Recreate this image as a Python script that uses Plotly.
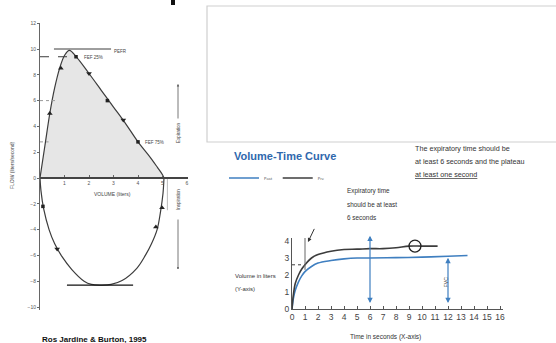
import plotly.graph_objects as go

W, H = 556, 343
def px(x): return x / W
def py(y): return 1 - y / H

# ---------- Flow-volume loop data ----------
exp_vol  = [0, 0.2, 0.4, 0.6, 0.8, 1.0, 1.2, 1.5, 2.0, 2.5, 3.0, 3.5, 4.0, 4.5, 4.8, 5.0, 5.06]
exp_flow = [0, 2.5, 5.0, 7.0, 8.5, 9.5, 9.9, 9.35, 8.1, 6.8, 5.5, 4.2, 2.8, 1.6, 0.8, 0.25, 0]
insp_vol  = [5.06, 5.02, 4.92, 4.78, 4.55, 4.3, 3.95, 3.35, 2.9, 2.5, 2.1, 1.8, 1.3, 0.9, 0.6, 0.37, 0.15, 0.04, 0]
insp_flow = [0, -1.2, -2.6, -4, -5.1, -6, -7, -7.95, -8.25, -8.3, -8.25, -8.0, -7.1, -6.1, -5.1, -4, -2.4, -1.0, 0]
tri_up_vol, tri_up_flow = [0.4, 0.85], [5.0, 8.5]
tri_dn_vol, tri_dn_flow = [2.0, 3.4, 0.7], [8.1, 4.5, -5.5]
sq_vol, sq_flow = [1.47, 2.75, 4.0, 0.12], [9.4, 6.0, 2.8, -2.2]
tri_insp_vol, tri_insp_flow = [4.73, 4.98], [-3.8, -2.3]
pefr, fef25, fef75, pif = 10.0, 9.4, 2.8, -8.3
flow_ticks = [12, 10, 8, 6, 4, 2, 0, -2, -4, -6, -8, -10]
vol_ticks = [1, 2, 3, 4, 5, 6]

# ---------- Volume-time data ----------
pre_t = [0, 0.1, 0.25, 0.5, 0.75, 1.0, 1.5, 2, 3, 4, 5, 6, 7, 8, 9, 10, 11.2]
pre_v = [0, 0.8, 1.5, 2.0, 2.35, 2.6, 3.0, 3.2, 3.4, 3.5, 3.52, 3.55, 3.55, 3.6, 3.7, 3.7, 3.7]
post_t = [0, 0.1, 0.25, 0.5, 0.75, 1.0, 1.5, 2, 3, 4, 5, 6, 8, 10, 12, 13.5]
post_v = [0, 0.6, 1.1, 1.6, 1.95, 2.2, 2.5, 2.7, 2.85, 2.95, 3.0, 3.0, 3.02, 3.05, 3.1, 3.15]
time_ticks = list(range(0, 17))
vol_time_ticks = [0, 1, 2, 3, 4]
fev1 = 2.6

fig = go.Figure()
dark = "#3c3c3c"
blue = "#3f7fc0"

fig.add_trace(go.Scatter(x=exp_vol, y=exp_flow, mode="lines", fill="tozeroy",
                         fillcolor="#e6e6e6", line=dict(color=dark, width=1.2, shape="spline"),
                         xaxis="x", yaxis="y", showlegend=False))
fig.add_trace(go.Scatter(x=insp_vol, y=insp_flow, mode="lines",
                         line=dict(color=dark, width=1.2, shape="spline"),
                         xaxis="x", yaxis="y", showlegend=False))
fig.add_trace(go.Scatter(x=tri_up_vol, y=tri_up_flow, mode="markers",
                         marker=dict(symbol="triangle-up", size=5, color="#222"),
                         xaxis="x", yaxis="y", showlegend=False))
fig.add_trace(go.Scatter(x=tri_dn_vol, y=tri_dn_flow, mode="markers",
                         marker=dict(symbol="triangle-down", size=5, color="#222"),
                         xaxis="x", yaxis="y", showlegend=False))
fig.add_trace(go.Scatter(x=sq_vol, y=sq_flow, mode="markers",
                         marker=dict(symbol="square", size=3.5, color="#222"),
                         xaxis="x", yaxis="y", showlegend=False))
fig.add_trace(go.Scatter(x=tri_insp_vol, y=tri_insp_flow, mode="markers",
                         marker=dict(symbol="triangle-up", size=5, color="#222"),
                         xaxis="x", yaxis="y", showlegend=False))
fig.add_trace(go.Scatter(x=[0.57, 2.9], y=[pefr, pefr], mode="lines", line=dict(color=dark, width=1),
                         xaxis="x", yaxis="y", showlegend=False))
fig.add_trace(go.Scatter(x=[0, 1.47], y=[fef25, fef25], mode="lines", line=dict(color=dark, width=1, dash="dash"),
                         xaxis="x", yaxis="y", showlegend=False))
fig.add_trace(go.Scatter(x=[0, 0.7], y=[6, 6], mode="lines", line=dict(color="#999", width=1, dash="dot"),
                         xaxis="x", yaxis="y", showlegend=False))
fig.add_trace(go.Scatter(x=[0, 0.35], y=[fef75, fef75], mode="lines", line=dict(color="#999", width=1, dash="dot"),
                         xaxis="x", yaxis="y", showlegend=False))
fig.add_trace(go.Scatter(x=[1.1, 3.8], y=[pif, pif], mode="lines", line=dict(color="#111", width=1.2),
                         xaxis="x", yaxis="y", showlegend=False))
fig.add_trace(go.Scatter(x=[5.2, 5.2], y=[0, -2.5], mode="lines", line=dict(color="#aaa", width=0.8),
                         xaxis="x", yaxis="y", showlegend=False))

fig.add_trace(go.Scatter(x=post_t, y=post_v, mode="lines", name="Post",
                         line=dict(color=blue, width=1.6, shape="spline"), xaxis="x2", yaxis="y2"))
fig.add_trace(go.Scatter(x=pre_t, y=pre_v, mode="lines", name="Pre",
                         line=dict(color=dark, width=1.6, shape="spline"), xaxis="x2", yaxis="y2"))
fig.add_trace(go.Scatter(x=[0, 1], y=[fev1, fev1], mode="lines", line=dict(color=dark, width=1, dash="dot"),
                         xaxis="x2", yaxis="y2", showlegend=False))
fig.add_trace(go.Scatter(x=[1, 1], y=[2.3, 4.2], mode="lines", line=dict(color="#666", width=1),
                         xaxis="x2", yaxis="y2", showlegend=False))

fam = "Liberation Sans, Arial"
axl = dict(showgrid=False, zeroline=False, showline=True, linecolor="#666", linewidth=1,
           ticks="outside", ticklen=2, tickcolor="#666", automargin=False,
           tickfont=dict(size=5, color="#555", family=fam))
axr = dict(showgrid=False, zeroline=False, showline=True, linecolor="#555", linewidth=1.2,
           tickcolor="#555", automargin=False, tickangle=0,
           tickfont=dict(size=8.5, color="#444", family=fam))

fig.update_layout(
    width=W, height=H, margin=dict(l=0, r=0, t=0, b=0, autoexpand=False),
    paper_bgcolor="white", plot_bgcolor="rgba(0,0,0,0)",
    xaxis=dict(axl, domain=[px(40), px(188)], range=[0, 148 / 24.5], anchor="free",
               position=py(178), tickvals=vol_ticks, ticks="inside", linecolor="#444", linewidth=1.5),
    yaxis=dict(axl, domain=[py(310), py(23)], range=[-(310 - 178) / 12.9, (178 - 23) / 12.9],
               tickvals=flow_ticks, anchor="x"),
    xaxis2=dict(axr, ticks="inside", ticklen=3,
                domain=[px(292), px(503)], range=[0, 211 / 13], tickvals=time_ticks, anchor="y2"),
    yaxis2=dict(axr, ticks="", domain=[py(309), py(238)], range=[0, 71 / 17],
                tickvals=vol_time_ticks, anchor="x2"),
    legend=dict(orientation="h", x=px(224), y=py(178), yanchor="middle", xanchor="left",
                font=dict(size=4, color="#444"), itemwidth=30, bgcolor="rgba(0,0,0,0)"),
    showlegend=True,
)

shapes = [
    dict(type="rect", xref="paper", yref="paper", x0=px(207), x1=px(600), y0=py(142), y1=py(6),
         line=dict(color="#cfcfcf", width=1.2)),
    dict(type="rect", xref="paper", yref="paper", x0=px(171), x1=px(175), y0=py(5), y1=py(0),
         fillcolor="#111", line=dict(width=0)),
    dict(type="circle", xref="x2", yref="y2", x0=9.0, x1=9.92, y0=3.35, y1=4.05,
         line=dict(color="#222", width=1.3)),
]
fig.update_layout(shapes=shapes)

ann = []
def t(x, y, text, size=5, color="#444", xanchor="left", angle=0, bold=False, ref="paper"):
    d = dict(x=x, y=y, text=(f"<b>{text}</b>" if bold else text), showarrow=False,
             xanchor=xanchor, yanchor="middle", textangle=angle,
             font=dict(size=size, color=color, family=fam))
    if ref == "paper":
        d.update(xref="paper", yref="paper")
    else:
        d.update(xref=ref[0], yref=ref[1])
    ann.append(d)

t(px(12), py(165), "FLOW (liters/second)", size=5, angle=-90, xanchor="center")
t(px(112), py(194), "VOLUME (liters)", size=5, xanchor="center")
t(px(112), py(51), "PEFR", size=4.5)
t(px(82), py(57), "FEF 25%", size=4.5)
t(px(143), py(142), "FEF 75%", size=4.5)
t(px(178), py(133), "Expiration", size=4.5, angle=-90, xanchor="center")
t(px(178), py(200), "Inspiration", size=4.5, angle=-90, xanchor="center")
ann.append(dict(xref="paper", yref="paper", axref="pixel", ayref="pixel",
                x=px(178), y=py(84), ax=0, ay=36, showarrow=True, arrowhead=2, arrowsize=0.6,
                arrowwidth=0.8, arrowcolor="#555", text=""))
ann.append(dict(xref="paper", yref="paper", axref="pixel", ayref="pixel",
                x=px(178), y=py(268), ax=0, ay=-50, showarrow=True, arrowhead=6, arrowsize=0.6,
                arrowwidth=0.8, arrowcolor="#555", text=""))
t(px(40), py(339), "Ros Jardine & Burton, 1995", size=8, color="#111", bold=True)

t(px(232), py(156), "Volume-Time Curve", size=11, color="#2f68ad", bold=True)
t(px(413), py(148), "The expiratory time should be", size=7.2, color="#333")
t(px(413), py(161), "at least 6 seconds and the plateau", size=7.2, color="#333")
t(px(413), py(174), "<u>at least one second</u>", size=7.2, color="#333")
t(px(345), py(191), "Expiratory time", size=6.4, color="#333")
t(px(345), py(204), "should be at least", size=6.4, color="#333")
t(px(345), py(217), "6 seconds", size=6.4, color="#333")
t(px(233), py(276), "Volume in liters", size=6, color="#333")
t(px(233), py(289), "(Y-axis)", size=6, color="#333")
t(px(385), py(337), "Time in seconds (X-axis)", size=6.5, color="#333", xanchor="center")
t(2.0, 4.95, "FEV<sub>1</sub>", size=5, color="#333", ref=("x2", "y2"))
t(11.8, 1.6, "FVC", size=5, color="#333", angle=-90, xanchor="center", ref=("x2", "y2"))

ann.append(dict(xref="x2", yref="y2", axref="x2", ayref="y2", x=1.23, y=3.94, ax=1.77, ay=4.8,
                showarrow=True, arrowhead=2, arrowsize=0.8, arrowwidth=1, arrowcolor="#333", text=""))
ann.append(dict(xref="x2", yref="y2", axref="x2", ayref="y2", x=6, y=0.35, ax=6, ay=4.4,
                showarrow=True, arrowhead=2, startarrowhead=2, arrowside="end+start",
                arrowsize=0.9, arrowwidth=1.2, arrowcolor=blue, text=""))
ann.append(dict(xref="x2", yref="y2", axref="x2", ayref="y2", x=12, y=0.35, ax=12, ay=3.1,
                showarrow=True, arrowhead=2, startarrowhead=2, arrowside="end+start",
                arrowsize=0.9, arrowwidth=1.2, arrowcolor=blue, text=""))
ann.append(dict(xref="x2", yref="y2", axref="x2", ayref="y2", x=9.5, y=4.25, ax=9.5, ay=8.55,
                showarrow=True, arrowhead=2, arrowsize=0.9, arrowwidth=1, arrowcolor="#333", text=""))
fig.update_layout(annotations=ann)

fig.write_html("out.html", config={"displayModeBar": False},
               post_script="document.body.style.margin='0px';document.body.style.overflow='hidden';")
